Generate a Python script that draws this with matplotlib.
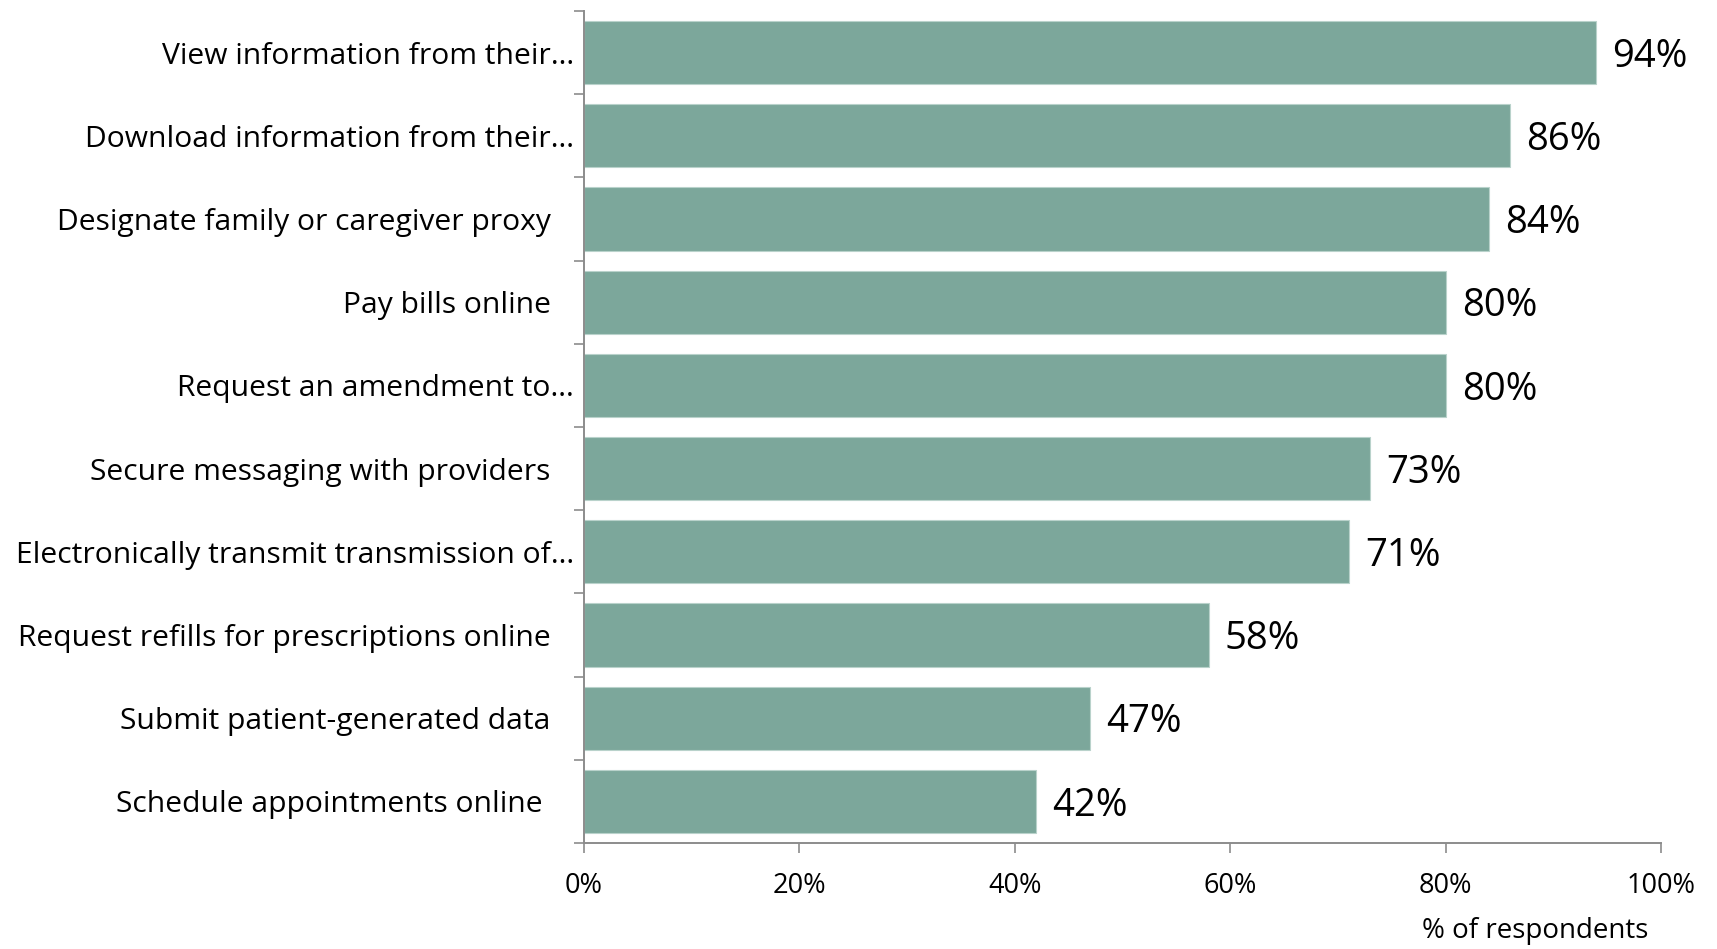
import numpy as np
import matplotlib.pyplot as plt
from matplotlib.ticker import FixedLocator, PercentFormatter

# categories top to bottom
categories = [
    "View information from their…",
    "Download information from their…",
    "Designate family or caregiver proxy   ",
    "Pay bills online   ",
    "Request an amendment to…",
    "Secure messaging with providers   ",
    "Electronically transmit transmission of…",
    "Request refills for prescriptions online   ",
    "Submit patient-generated data   ",
    "Schedule appointments online    ",
]
values = [94, 86, 84, 80, 80, 73, 71, 58, 47, 42]
x_ticks = [0, 20, 40, 60, 80, 100]

bar_color = "#7ca79b"
axis_color = "#8c8c8c"

plt.rcParams['font.family'] = ['Open Sans', 'DejaVu Sans']

fig = plt.figure(figsize=(17.17, 9.49), dpi=100)
ax = fig.add_axes([0.340, 0.1117, 0.6274, 0.8767])

n = len(categories)
ypos = np.arange(n)
ax.barh(ypos, values, height=0.76, color=bar_color, edgecolor="#b9d2cb", linewidth=0.8)

for y, v in zip(ypos, values):
    ax.text(v + 1.5, y + 0.05, f"{v}%", va="center", ha="left", fontsize=27.5, color="black")

ax.set_ylim(n - 0.5, -0.5)
ax.set_xlim(0, 100)

# category labels centered on bars, tick marks on the boundaries
ax.yaxis.set_major_locator(FixedLocator(np.arange(-0.5, n, 1.0)))
ax.yaxis.set_major_formatter(plt.NullFormatter())
ax.yaxis.set_minor_locator(FixedLocator(ypos))
ax.set_yticklabels(categories, minor=True, fontsize=21.6)
ax.tick_params(axis="y", which="major", length=7, width=1.2, color=axis_color, direction="out")
ax.tick_params(axis="y", which="minor", length=0, pad=7)

ax.set_xticks(x_ticks)
ax.xaxis.set_major_formatter(PercentFormatter(decimals=0))
ax.tick_params(axis="x", length=7, width=1.2, color=axis_color, direction="out", labelsize=19.5, pad=14)

for side in ["top", "right"]:
    ax.spines[side].set_visible(False)
for side in ["left", "bottom"]:
    ax.spines[side].set_color(axis_color)
    ax.spines[side].set_linewidth(1.4)

fig.text(1648 / 1717, 1 - 931 / 949, "% of respondents", ha="right", va="center", fontsize=20)

fig.savefig("out.png", dpi=100)
